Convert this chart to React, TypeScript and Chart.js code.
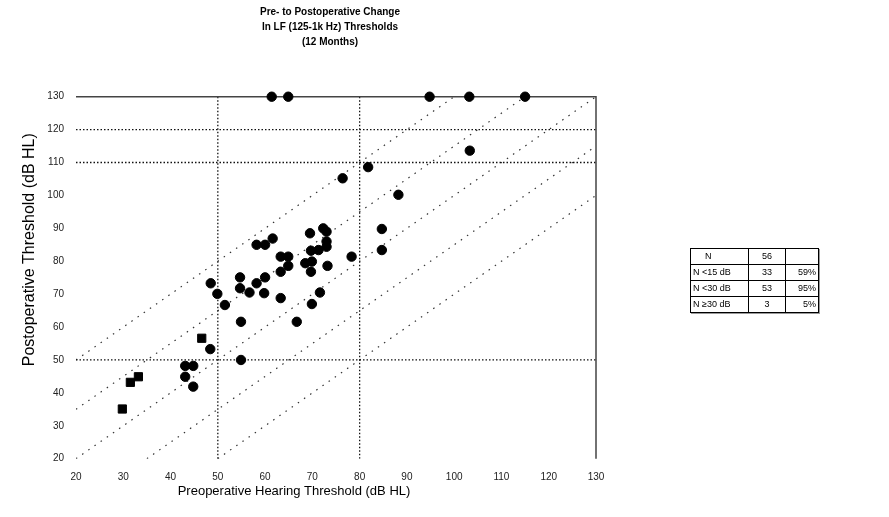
import React, { useEffect, useRef } from "react";
import { Chart, registerables } from "chart.js";

Chart.register(...registerables);

// ---- data ----
const titleLines = ["Pre- to Postoperative Change", "In LF (125-1k Hz) Thresholds", "(12 Months)"];
const xAxisTitle = "Preoperative Hearing Threshold (dB HL)";
const yAxisTitle = "Postoperative Threshold (dB HL)";
const axisRange = [20, 130];
const tickStep = 10;

// preoperative (x) / postoperative (y) thresholds, circles
const circleX = [61.4, 64.9, 94.8, 103.2, 115, 103.3, 81.8, 76.4, 88.2, 84.7, 84.7, 78.3, 69.5, 72.3, 73, 73, 69.7, 71.3, 73, 61.6, 58.2, 60, 63.3, 64.9, 64.9, 63.3, 68.5, 69.9, 69.7, 73.2, 54.7, 54.7, 56.7, 58.2, 60, 59.8, 48.5, 49.9, 51.5, 63.3, 71.6, 69.9, 66.7, 54.9, 48.4, 54.9, 43.1, 44.8, 43.1, 44.8];
const circleY = [130, 130, 130, 130, 130, 113.6, 108.6, 105.2, 100.2, 89.8, 83.4, 81.4, 88.5, 90, 89, 86, 83.2, 83.4, 84.4, 86.9, 85, 85, 81.4, 81.4, 78.6, 76.8, 79.4, 79.9, 76.8, 78.6, 75.1, 71.8, 70.5, 73.3, 75.1, 70.3, 73.3, 70.1, 66.7, 68.8, 70.5, 67, 61.6, 61.6, 53.3, 50, 48.2, 48.2, 44.9, 41.9];
// squares
const squareX = [46.6, 33.2, 31.5, 29.8];
const squareY = [56.6, 44.9, 43.2, 35.1];

// reference lines
const diagonalOffsets = [0, 15, -15, 30, -30];
const horizontalRefs = [120, 110, 50];
const verticalRefs = [50, 80];

const tableRows = [
  ["N", "56", ""],
  ["N <15 dB", "33", "59%"],
  ["N <30 dB", "53", "95%"],
  ["N \u226530 dB", "3", "5%"],
];

const FONT = "'Liberation Sans', Arial, Helvetica, sans-serif";

const axisTitlePlugin = {
  id: "axisTitlesCustom",
  afterDraw(chart: any) {
    const { ctx, chartArea } = chart;
    ctx.save();
    ctx.fillStyle = "#000";
    ctx.textAlign = "center";
    ctx.textBaseline = "middle";
    ctx.font = `13px ${FONT}`;
    ctx.fillText(xAxisTitle, (chartArea.left + chartArea.right) / 2 - 42, 491);
    ctx.translate(30, (chartArea.top + chartArea.bottom) / 2 - 28);
    ctx.rotate(-Math.PI / 2);
    ctx.font = `16px ${FONT}`;
    ctx.fillText(yAxisTitle, 0, 0);
    ctx.restore();
  },
};

export default function App() {
  const canvasRef = useRef<HTMLCanvasElement | null>(null);

  useEffect(() => {
    if (!canvasRef.current) return;
    const [lo, hi] = axisRange;

    const circles = circleX.map((x, i) => ({ x, y: circleY[i] }));
    const squares = squareX.map((x, i) => ({ x, y: squareY[i] }));

    const diagSets = diagonalOffsets.map((d) => {
      const x0 = Math.max(lo, lo - d);
      const x1 = Math.min(hi, hi - d);
      return {
        type: "scatter" as const,
        data: [{ x: x0, y: x0 + d }, { x: x1, y: x1 + d }],
        showLine: true,
        borderColor: "#333",
        borderWidth: 1.2,
        borderDash: [1.5, 6],
        pointRadius: 0,
        fill: false,
      };
    });
    const hSets = horizontalRefs.map((v) => ({
      type: "scatter" as const,
      data: [{ x: lo, y: v }, { x: hi, y: v }],
      showLine: true,
      borderColor: "#111",
      borderWidth: 1.3,
      borderDash: [1.5, 2],
      pointRadius: 0,
    }));
    const vSets = verticalRefs.map((v) => ({
      type: "scatter" as const,
      data: [{ x: v, y: lo }, { x: v, y: hi }],
      showLine: true,
      borderColor: "#111",
      borderWidth: 1.3,
      borderDash: [1.5, 2],
      pointRadius: 0,
    }));
    const frameSets = [
      {
        type: "scatter" as const,
        data: [{ x: lo, y: hi }, { x: hi, y: hi }, { x: hi, y: lo }],
        showLine: true,
        borderColor: "#444",
        borderWidth: 1.5,
        pointRadius: 0,
        clip: false as const,
      },
    ];

    const chart = new Chart(canvasRef.current, {
      type: "scatter",
      data: {
        datasets: [
          {
            data: circles,
            pointStyle: "circle",
            pointRadius: 4.7,
            backgroundColor: "#000",
            borderColor: "#000",
            borderWidth: 1,
            clip: false as const,
          },
          {
            data: squares,
            pointStyle: "rect",
            pointRadius: 5.8,
            backgroundColor: "#000",
            borderColor: "#000",
            borderWidth: 1,
            clip: false as const,
          },
          ...frameSets,
          ...hSets,
          ...vSets,
          ...diagSets,
        ] as any,
      },
      options: {
        animation: false,
        responsive: false,
        devicePixelRatio: 1,
        layout: { padding: { left: 0, right: 229, top: 0, bottom: 0 } },
        plugins: {
          legend: { display: false },
          tooltip: { enabled: false },
          title: {
            display: true,
            text: titleLines,
            color: "#000",
            font: { family: FONT, size: 10, weight: "bold", lineHeight: 1.5 },
            padding: { top: 5, bottom: 46.7 },
          },
        },
        scales: {
          x: {
            type: "linear",
            min: axisRange[0],
            max: axisRange[1],
            afterFit: (s: any) => {
              s.height = 58.3;
            },
            grid: { display: false, drawTicks: false },
            border: { display: false },
            ticks: {
              stepSize: tickStep,
              padding: 13,
              color: "#222",
              font: { family: FONT, size: 10 },
            },
          },
          y: {
            type: "linear",
            min: axisRange[0],
            max: axisRange[1],
            afterFit: (s: any) => {
              s.width = 76;
            },
            grid: { display: false, drawTicks: false },
            border: { display: false },
            ticks: {
              stepSize: tickStep,
              padding: 12,
              color: "#222",
              font: { family: FONT, size: 10 },
            },
          },
          y2: {
            type: "linear",
            position: "right",
            display: true,
            min: axisRange[0],
            max: axisRange[1],
            afterFit: (s: any) => {
              s.width = 64;
            },
            grid: { display: false, drawTicks: false },
            border: { display: false },
            ticks: { display: false },
          },
        },
      } as any,
      plugins: [axisTitlePlugin],
    });
    return () => chart.destroy();
  }, []);

  const cell: React.CSSProperties = {
    border: "1px solid #000",
    padding: "0 2px",
    height: 15,
    fontSize: 9,
    fontFamily: FONT,
    lineHeight: "15px",
    whiteSpace: "nowrap",
    overflow: "hidden",
  };

  return (
    <div style={{ position: "absolute", left: 0, top: 0, width: 889, height: 517, background: "#fff" }}>
      <canvas ref={canvasRef} width={889} height={517} style={{ position: "absolute", left: 0, top: 0, width: 889, height: 517 }} />
      <table
        style={{
          position: "absolute",
          left: 690,
          top: 248,
          borderCollapse: "collapse",
          border: "1.5px solid #000",
          boxShadow: "1px 1px 0 #999",
          tableLayout: "fixed",
          width: 128,
        }}
      >
        <colgroup>
          <col style={{ width: 58 }} />
          <col style={{ width: 37 }} />
          <col style={{ width: 33 }} />
        </colgroup>
        <tbody>
          {tableRows.map((r, i) => (
            <tr key={i}>
              <td style={{ ...cell, textAlign: "left", paddingLeft: i === 0 ? 14 : 2 }}>{r[0]}</td>
              <td style={{ ...cell, textAlign: "center" }}>{r[1]}</td>
              <td style={{ ...cell, textAlign: "right" }}>{r[2]}</td>
            </tr>
          ))}
        </tbody>
      </table>
    </div>
  );
}
